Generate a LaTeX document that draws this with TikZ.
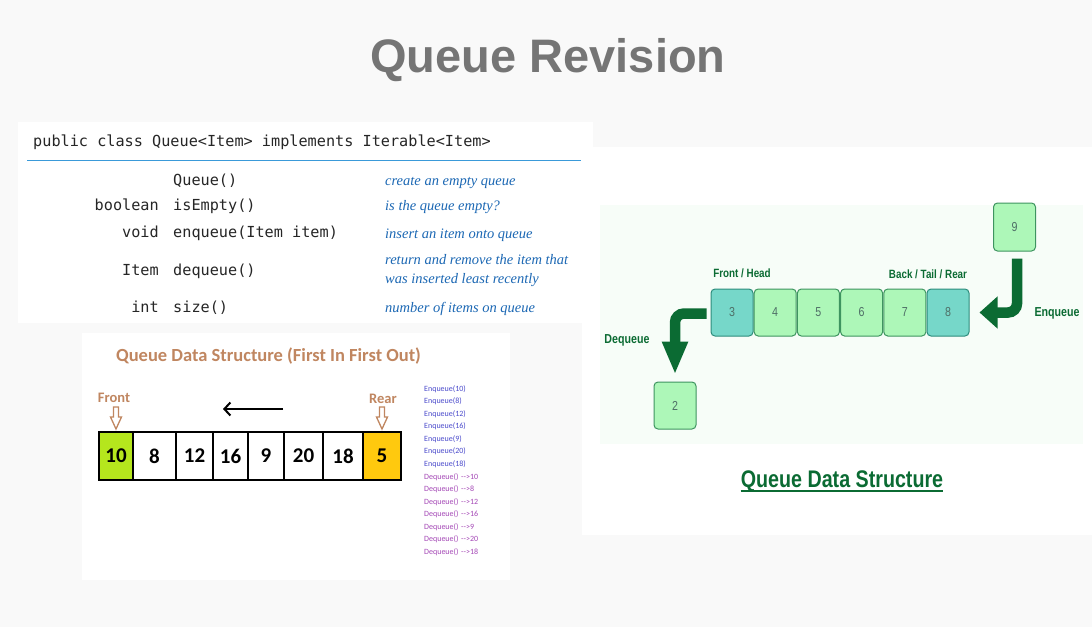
\documentclass[tikz,border=0pt]{standalone}
\usepackage{fontspec}
\setmainfont{Liberation Sans}
\newfontfamily\codefont{DejaVu Sans Mono}
\newfontfamily\descfont{Liberation Serif}
\newfontfamily\calfont{Carlito}
\newfontfamily\narrowfont[FakeStretch=0.82]{Liberation Sans}
\usetikzlibrary{arrows.meta}

\definecolor{pagebg}{HTML}{F9F9F9}
\definecolor{titlegray}{HTML}{757575}
\definecolor{ruleblue}{HTML}{3A9AD9}
\definecolor{descblue}{HTML}{1C68B4}
\definecolor{rustbrown}{HTML}{C08660}
\definecolor{cellgreen}{HTML}{B5E61D}
\definecolor{cellgold}{HTML}{FFC90E}
\definecolor{enqblue}{HTML}{4B4BCC}
\definecolor{deqpurple}{HTML}{A447B6}
\definecolor{gfgdark}{HTML}{0B6B33}
\definecolor{tealfill}{HTML}{76D7C9}
\definecolor{tealedge}{HTML}{2D8C7C}
\definecolor{mintfill}{HTML}{ADF7B8}
\definecolor{mintedge}{HTML}{3E9460}
\definecolor{numgray}{HTML}{4E6E66}
\definecolor{mintbg}{HTML}{F7FDF8}

\tikzset{
  panel/.style={fill=white, draw=none},
  codetxt/.style={inner sep=0pt, font=\codefont\fontsize{15.2}{18}\selectfont, text=black!85},
  desctxt/.style={inner sep=0pt, anchor=base west, text=descblue,
    font=\descfont\itshape\fontsize{14.5}{17}\selectfont},
  qcell/.style={draw=black, line width=2pt, minimum height=48pt, inner sep=0pt,
    font=\calfont\bfseries\fontsize{21}{24}\selectfont},
  brownlbl/.style={inner sep=0pt, text=rustbrown, font=\calfont\bfseries\fontsize{14.5}{17}\selectfont},
  hollowdown/.style={draw=rustbrown, line width=1.3pt, fill=white, line join=miter},
  listtxt/.style={inner sep=0pt, anchor=west, font=\calfont\fontsize{8}{9}\selectfont},
  gcell/.style={rounded corners=4pt, line width=1pt, minimum width=42pt, minimum height=47pt,
    inner sep=0pt, text=numgray, font=\narrowfont\fontsize{13}{15}\selectfont},
  mintcell/.style={gcell, fill=mintfill, draw=mintedge},
  tealcell/.style={gcell, fill=tealfill, draw=tealedge},
  gfglbl/.style={inner sep=0pt, text=gfgdark, font=\narrowfont\bfseries\fontsize{12}{14}\selectfont},
  bigarrow/.style={draw=gfgdark, line width=10.5pt, rounded corners=9pt},
}

\begin{document}
\begin{tikzpicture}[x=1pt, y=-1pt]
  % page
  \fill[pagebg] (0,0) rectangle (1092,627);
  \useasboundingbox (0,0) rectangle (1092,627);

  % heading
  \node[text=titlegray, font=\bfseries\fontsize{47}{52}\selectfont, inner sep=0pt]
    (heading) at (548,60) {Queue Revision};

  % ---------- API table ----------
  \fill[panel] (18,122) rectangle (593,323);
  \node[codetxt, anchor=base west] (sig) at (33,146)
    {public class Queue<Item> implements Iterable<Item>};
  \draw[ruleblue, line width=1pt] (27,160) -- (581,160);

  \node[codetxt, anchor=base west] (m1) at (173,185) {Queue()};
  \node[codetxt, anchor=base east] (t2) at (159,210) {boolean};
  \node[codetxt, anchor=base west] (m2) at (173,210) {isEmpty()};
  \node[codetxt, anchor=base east] (t3) at (159,237) {void};
  \node[codetxt, anchor=base west] (m3) at (173,237) {enqueue(Item item)};
  \node[codetxt, anchor=base east] (t4) at (159,275) {Item};
  \node[codetxt, anchor=base west] (m4) at (173,275) {dequeue()};
  \node[codetxt, anchor=base east] (t5) at (159,312) {int};
  \node[codetxt, anchor=base west] (m5) at (173,312) {size()};

  \node[desctxt] (d1) at (385,185) {create an empty queue};
  \node[desctxt] (d2) at (385,210) {is the queue empty?};
  \node[desctxt] (d3) at (385,238) {insert an item onto queue};
  \node[desctxt] (d4a) at (385,264) {return and remove the item that};
  \node[desctxt] (d4b) at (385,283) {was inserted least recently};
  \node[desctxt] (d5) at (385,312) {number of items on queue};

  % ---------- FIFO array ----------
  \fill[panel] (82,333) rectangle (510,580);
  \node[inner sep=0pt, text=rustbrown, font=\calfont\bfseries\fontsize{18.5}{22}\selectfont]
    (fifotitle) at (268.5,356) {Queue Data Structure (First In First Out)};

  \node[qcell, fill=cellgreen, minimum width=34pt] (c1) at (116,456) {10};
  \node[qcell, fill=white, minimum width=43pt] (c2) at (154.5,456) {8};
  \node[qcell, fill=white, minimum width=37pt] (c3) at (194.5,456) {12};
  \node[qcell, fill=white, minimum width=35pt] (c4) at (230.5,456) {16};
  \node[qcell, fill=white, minimum width=36pt] (c5) at (266,456) {9};
  \node[qcell, fill=white, minimum width=39pt] (c6) at (303.5,456) {20};
  \node[qcell, fill=white, minimum width=40pt] (c7) at (343,456) {18};
  \node[qcell, fill=cellgold, minimum width=38pt] (c8) at (382,456) {5};

  \node[brownlbl] (front) at (114,398) {Front};
  \node[brownlbl] (rear) at (383,399) {Rear};
  \begin{scope}[shift={(c1.north)}]
    \draw[hollowdown] (-2.5,-24) -- (2.5,-24) -- (2.5,-14) -- (5.5,-14) -- (0,-2)
      -- (-5.5,-14) -- (-2.5,-14) -- cycle;
  \end{scope}
  \begin{scope}[shift={(c8.north)}]
    \draw[hollowdown] (-2.5,-24) -- (2.5,-24) -- (2.5,-14) -- (5.5,-14) -- (0,-2)
      -- (-5.5,-14) -- (-2.5,-14) -- cycle;
  \end{scope}

  \coordinate (flowstart) at (283,409);
  \coordinate (flowend) at (223,409);
  \draw[line width=2pt, -{Straight Barb[length=6pt, width=13pt]}] (flowstart) -- (flowend);

  \foreach \k/\t in {0/Enqueue(10), 1/Enqueue(8), 2/Enqueue(12), 3/Enqueue(16),
                     4/Enqueue(9), 5/Enqueue(20), 6/Enqueue(18)}
    \node[listtxt, text=enqblue] (op\k) at (424,389+12.54*\k) {\t};
  \foreach \k/\t in {7/10, 8/8, 9/12, 10/16, 11/9, 12/20, 13/18}
    \node[listtxt, text=deqpurple] (op\k) at (424,389+12.54*\k) {Dequeue()\,\,-{}->\t};

  % ---------- enqueue / dequeue illustration ----------
  \fill[panel] (582,147) rectangle (1092,535);
  \fill[mintbg] (600,205) rectangle (1083,444);

  \node[tealcell] (q3) at (732,312.5) {3};
  \node[mintcell] (q4) at (775.2,312.5) {4};
  \node[mintcell] (q5) at (818.4,312.5) {5};
  \node[mintcell] (q6) at (861.6,312.5) {6};
  \node[mintcell] (q7) at (904.8,312.5) {7};
  \node[tealcell] (q8) at (948,312.5) {8};
  \node[mintcell, minimum height=48pt] (nine) at (1014.5,227) {9};
  \node[mintcell] (two) at (675,405.5) {2};

  \node[gfglbl] (headlbl) at (742,273) {Front / Head};
  \node[gfglbl] (taillbl) at (928,274) {Back / Tail / Rear};
  \node[gfglbl, font=\narrowfont\bfseries\fontsize{13}{15}\selectfont] (enqlbl) at (1057,313) {Enqueue};
  \node[gfglbl, font=\narrowfont\bfseries\fontsize{13}{15}\selectfont] (deqlbl) at (627,340) {Dequeue};

  \draw[bigarrow, shorten <=7pt, shorten >=10pt, -{Triangle[length=18pt, width=31pt]}]
    ([xshift=2.5pt]nine.south) |- (q8.east);
  \draw[bigarrow, shorten <=4pt, shorten >=7pt, -{Triangle[length=33pt, width=24pt]}]
    ([yshift=-1pt]q3.west) -| (two.north);

  \node[inner sep=0pt, text=gfgdark, font=\narrowfont\bfseries\fontsize{24}{28}\selectfont]
    (linktitle) at (842,481) {Queue Data Structure};
  \draw[gfgdark, line width=1.8pt] (linktitle.base west) ++(0,4) -- ([yshift=-4pt]linktitle.base east);
\end{tikzpicture}
\end{document}
